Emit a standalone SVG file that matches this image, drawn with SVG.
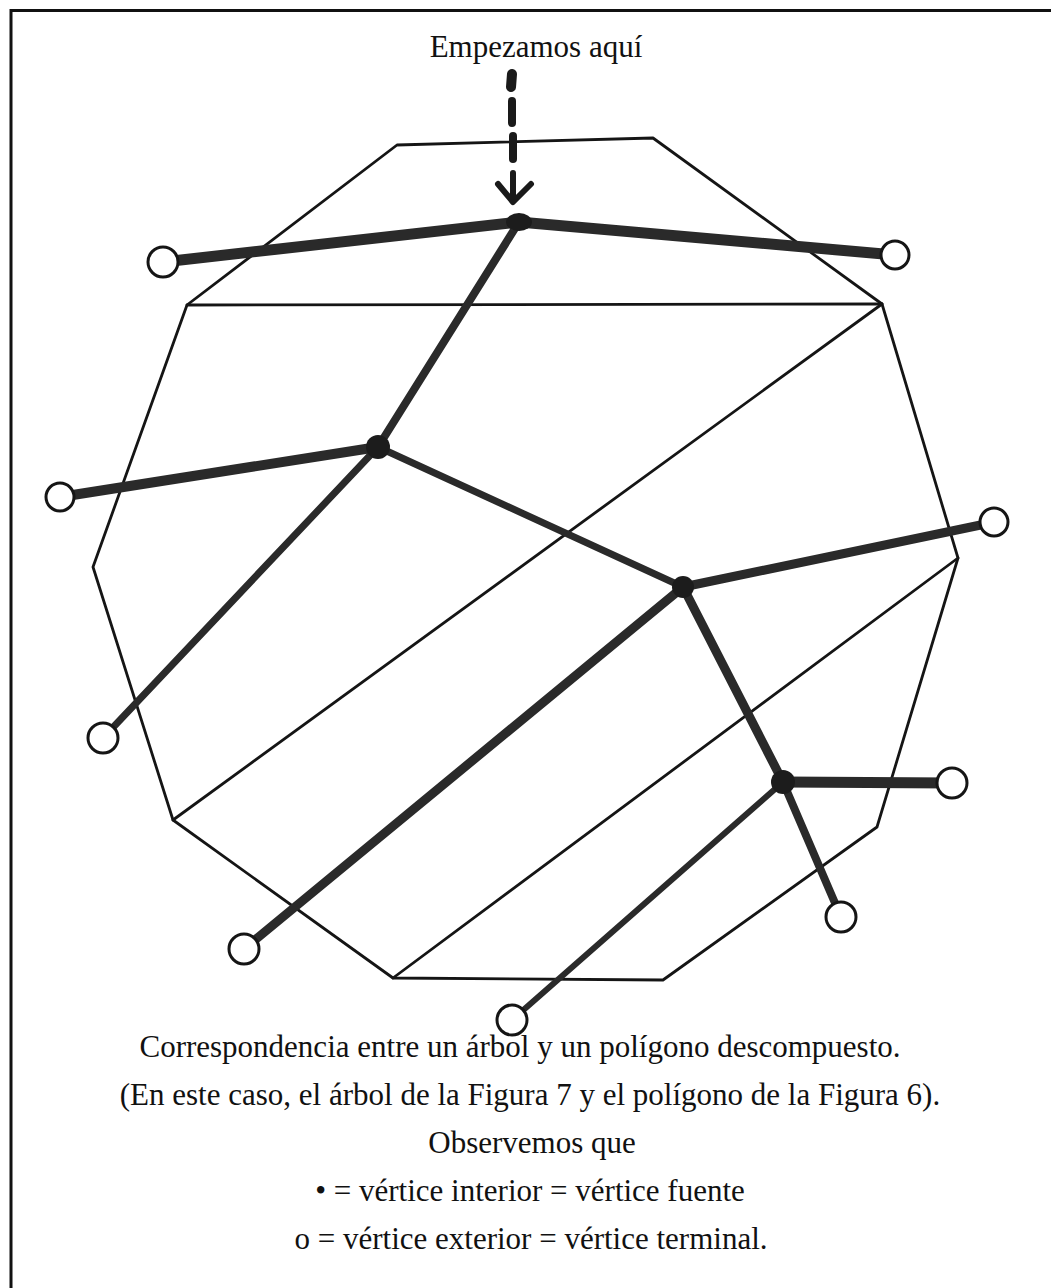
<svg xmlns="http://www.w3.org/2000/svg" width="1051" height="1288" viewBox="0 0 1051 1288">
<style>
.frame{stroke:#111;stroke-width:3;fill:none}
.poly{stroke:#151515;stroke-width:2.8;fill:none;stroke-linejoin:round;stroke-linecap:round}
.edge{stroke:#2a2a2a;stroke-linecap:round;fill:none}
.arrow{stroke:#1a1a1a;stroke-linecap:round;fill:none}
.leaf{fill:#fff;stroke:#151515;stroke-width:3}
.inner{fill:#1c1c1c}
.t{font-family:"Liberation Serif","Times New Roman",serif;font-size:31px;fill:#111;text-anchor:middle}
</style>
<rect width="1051" height="1288" fill="#fff"/>
<g id="frame" class="frame"><path d="M11,1288 V10.5 H1051"/></g>
<g id="polygon" class="poly">
<polygon points="397,145 653,138 882,304 958,558 877,827 663,980 393,978 173,820 93,567 187,305"/>
<line x1="187" y1="305" x2="882" y2="304"/>
<line x1="882" y1="304" x2="173" y2="820"/>
<line x1="958" y1="558" x2="393" y2="978"/>
</g>
<g id="start-arrow" class="arrow">
<line x1="512" y1="74" x2="511" y2="87" stroke-width="10"/>
<line x1="512" y1="101" x2="512" y2="123" stroke-width="8"/>
<line x1="513" y1="136" x2="513" y2="159" stroke-width="8"/>
<path d="M513,173 V199 M498,184 L513,202 L531,184" stroke-width="6" stroke-linejoin="round"/>
</g>
<g id="connectors" class="edge">
<line x1="519" y1="222" x2="163" y2="262" stroke-width="11"/>
<line x1="519" y1="222" x2="895" y2="255" stroke-width="11"/>
<line x1="519" y1="222" x2="378" y2="447" stroke-width="8"/>
<line x1="378" y1="447" x2="60" y2="497" stroke-width="10"/>
<line x1="378" y1="447" x2="103" y2="738" stroke-width="7"/>
<line x1="378" y1="447" x2="683" y2="587" stroke-width="7"/>
<line x1="683" y1="587" x2="995" y2="522" stroke-width="9"/>
<line x1="683" y1="587" x2="244" y2="949" stroke-width="9"/>
<line x1="683" y1="587" x2="783" y2="782" stroke-width="9"/>
<line x1="783" y1="782" x2="952" y2="783" stroke-width="11"/>
<line x1="783" y1="782" x2="841" y2="917" stroke-width="8"/>
<line x1="783" y1="782" x2="512" y2="1020" stroke-width="6"/>
</g>
<g id="n1"><ellipse class="inner" cx="519" cy="222" rx="13" ry="9"/></g>
<g id="n2"><circle class="inner" cx="378" cy="447" r="12"/></g>
<g id="n3"><circle class="inner" cx="683" cy="587" r="11"/></g>
<g id="n4"><circle class="inner" cx="783" cy="782" r="12"/></g>
<g id="l1"><circle class="leaf" cx="163" cy="262" r="15"/></g>
<g id="l2"><circle class="leaf" cx="895" cy="255" r="14"/></g>
<g id="l3"><circle class="leaf" cx="60" cy="497" r="14"/></g>
<g id="l4"><circle class="leaf" cx="103" cy="738" r="15"/></g>
<g id="l5"><circle class="leaf" cx="994" cy="522" r="14"/></g>
<g id="l6"><circle class="leaf" cx="244" cy="949" r="15"/></g>
<g id="l7"><circle class="leaf" cx="952" cy="783" r="15"/></g>
<g id="l8"><circle class="leaf" cx="841" cy="917" r="15"/></g>
<g id="l9"><circle class="leaf" cx="512" cy="1020" r="15"/></g>
<g id="labels">
<text class="t" x="536" y="57">Empezamos aquí</text>
<text class="t" x="520" y="1057">Correspondencia entre un árbol y un polígono descompuesto.</text>
<text class="t" x="530" y="1105">(En este caso, el árbol de la Figura 7 y el polígono de la Figura 6).</text>
<text class="t" x="532" y="1153">Observemos que</text>
<text class="t" x="530" y="1201">• = vértice interior = vértice fuente</text>
<text class="t" x="531" y="1249">o = vértice exterior = vértice terminal.</text>
</g>
</svg>
